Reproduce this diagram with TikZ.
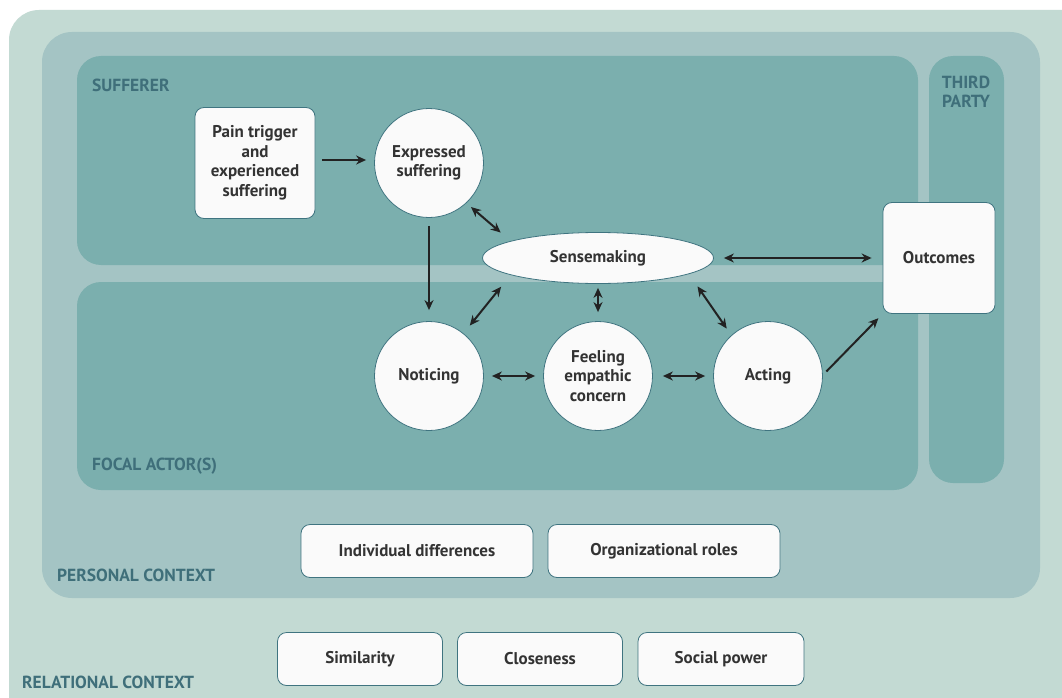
\documentclass[tikz,border=0pt]{standalone}
\usepackage{fontspec}
\setmainfont{PT Sans}
\usetikzlibrary{shapes.geometric,arrows.meta}
\definecolor{relc}{HTML}{C3DAD3}
\definecolor{perc}{HTML}{A4C4C4}
\definecolor{inc}{HTML}{7BAFAE}
\definecolor{edgec}{HTML}{3F7480}
\definecolor{nodefill}{HTML}{FAFAFA}
\definecolor{txtc}{HTML}{333333}
\definecolor{labc}{HTML}{3F6F7A}
\definecolor{arrc}{HTML}{222222}
\tikzset{
  base/.style={draw=edgec, line width=0.8pt, fill=nodefill, text=txtc,
    font=\bfseries\fontsize{17}{19.5}\selectfont, align=center, inner sep=0pt},
  rbox/.style={base, rectangle, rounded corners=9pt},
  circ/.style={base, circle, minimum size=109pt},
  area/.style={font=\bfseries\fontsize{17.5}{18.5}\selectfont, text=labc, inner sep=0pt},
  arr/.style={draw=arrc, line width=2pt, -{Stealth[length=10pt,width=9pt]}},
  darr/.style={draw=arrc, line width=2pt, {Stealth[length=10pt,width=9pt]}-{Stealth[length=10pt,width=9pt]}}
}
\begin{document}
\begin{tikzpicture}[x=1pt,y=-1pt]
\useasboundingbox (0,0) rectangle (1062,698);
\clip (0,0) rectangle (1062,698);
\fill[white] (0,0) rectangle (1062,698);
% relational context
\fill[relc, rounded corners=30pt] (9,10) rectangle (1100,740);
% personal context
\fill[perc, rounded corners=30pt] (42,32) rectangle (1040,598);
% sufferer, focal actor, third party
\fill[inc, rounded corners=24pt] (77,56) rectangle (918,265);
\fill[inc, rounded corners=24pt] (77,282) rectangle (918,490);
\fill[inc, rounded corners=24pt] (929,56) rectangle (1004,483);

\node[area, anchor=west] (lsuf) at (92,85) {SUFFERER};
\node[area, align=center] (lthird) at (966,92) {THIRD\\PARTY};
\node[area, anchor=west] (lfocal) at (92,466) {FOCAL ACTOR(S)};
\node[area, anchor=west] (lpers) at (57,575) {PERSONAL CONTEXT};
\node[area, anchor=west] (lrel) at (22,682) {RELATIONAL CONTEXT};

% nodes
\node[rbox, minimum width=120pt, minimum height=111pt] (pain) at (255,163) {Pain trigger\\and\\experienced\\suffering};
\node[circ] (exp) at (429,163) {Expressed\\suffering};
\node[base, ellipse, minimum width=231pt, minimum height=51pt] (sense) at (598,258) {Sensemaking};
\node[rbox, minimum width=112pt, minimum height=111pt] (out) at (939,258) {Outcomes};
\node[circ] (notic) at (429,376) {Noticing};
\node[circ] (feel) at (598,376) {Feeling\\empathic\\concern};
\node[circ] (act) at (768,376) {Acting};

\node[rbox, minimum width=232pt, minimum height=53pt] (indiv) at (417,551) {Individual differences};
\node[rbox, minimum width=232pt, minimum height=53pt] (org) at (664,551) {Organizational roles};
\node[rbox, minimum width=165pt, minimum height=53pt] (sim) at (360,659) {Similarity};
\node[rbox, minimum width=165pt, minimum height=53pt] (clo) at (540,659) {Closeness};
\node[rbox, minimum width=166pt, minimum height=53pt] (pow) at (721,659) {Social power};

% connectors
\draw[arr, shorten <=7pt, shorten >=8pt] (pain.east |- 0,160) -- (exp.west |- 0,160);
\draw[arr, shorten <=8pt, shorten >=11pt] (exp.south) -- (notic.north);
\draw[darr, shorten <=6pt, shorten >=13pt] (exp.-47) -- (sense.169);
\draw[darr, shorten <=15pt, shorten >=10pt] (sense.191) -- (notic.51);
\draw[darr, shorten <=4pt, shorten >=9pt] (sense.south) -- (feel.north);
\draw[darr, shorten <=15pt, shorten >=8pt] (sense.-10) -- (act.132);
\draw[darr, shorten <=10pt, shorten >=11pt] (sense.east) -- (out.west);
\draw[darr, shorten <=8pt, shorten >=8pt] (notic.east) -- (feel.west);
\draw[darr, shorten <=10pt, shorten >=8pt] (feel.east) -- (act.west);
\draw[arr, shorten <=5pt, shorten >=6pt] (act.1) -- (out.south west);
\end{tikzpicture}
\end{document}
